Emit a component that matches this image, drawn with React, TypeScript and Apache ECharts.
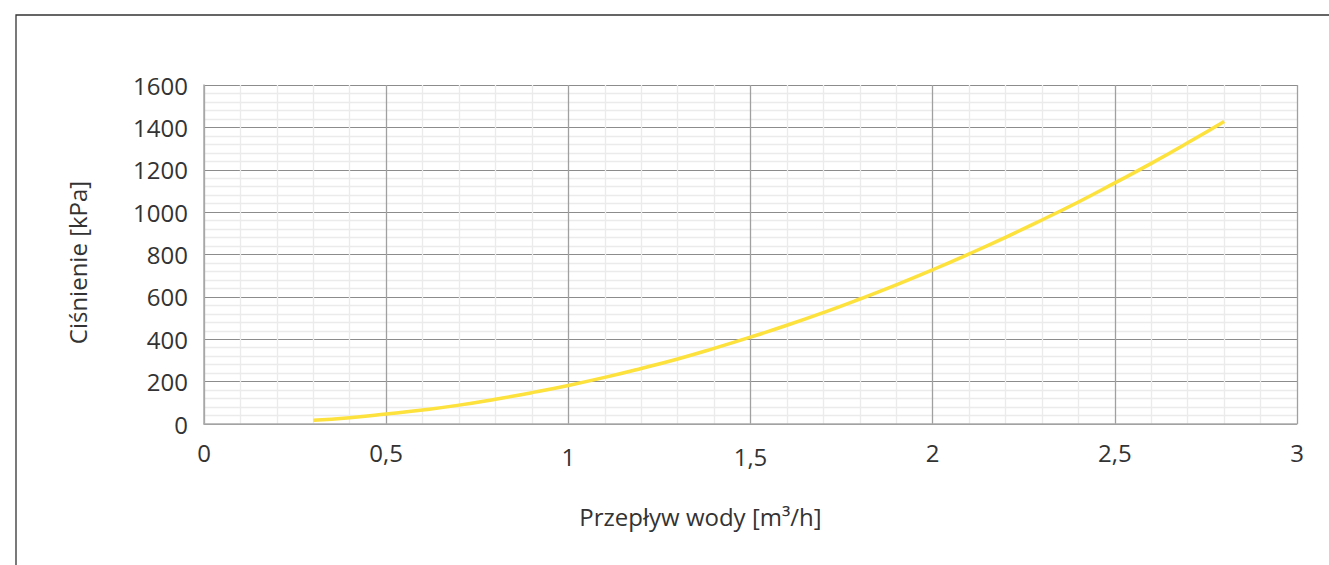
import React, { useEffect, useRef } from "react";
import * as echarts from "echarts";

const flow = [0.3, 0.4, 0.5, 0.6, 0.7, 0.8, 0.9, 1.0, 1.1, 1.2, 1.3, 1.4, 1.5, 1.6, 1.7, 1.8, 1.9, 2.0, 2.1, 2.2, 2.3, 2.4, 2.5, 2.6, 2.7, 2.8];
const pressure = [18, 30, 47, 66, 89, 117, 148, 182, 220, 262, 307, 357, 410, 466, 526, 590, 657, 728, 803, 881, 963, 1048, 1138, 1230, 1327, 1428];
const xTitle = "Przepływ wody [m³/h]";
const yTitle = "Ciśnienie [kPa]";
const lowLabels = [1, 1.5];

const FONT = "'Open Sans', sans-serif";
const FS = 24;

export default function App() {
  const ref = useRef<HTMLDivElement>(null);
  useEffect(() => {
    document.body.style.margin = "0";
    const chart = echarts.init(ref.current!, null, { renderer: "svg" });
    chart.setOption({
      animation: false,
      backgroundColor: "#ffffff",
      textStyle: { fontFamily: FONT },
      graphic: [
        {
          type: "rect",
          shape: { x: 16, y: 15, width: 1400, height: 600 },
          style: { fill: "none", stroke: "#333", lineWidth: 1.3 },
          silent: true,
        },
      ],
      grid: { left: 204, top: 85, right: 32, bottom: 141 },
      xAxis: {
        type: "value",
        min: 0,
        max: 3,
        interval: 0.5,
        name: xTitle,
        nameLocation: "middle",
        nameGap: 80,
        nameTextStyle: { fontSize: FS, color: "#333", fontFamily: FONT, padding: [0, 100, 0, 0] },
        axisLine: { show: true, lineStyle: { color: "#aaa", width: 1.5 } },
        axisTick: { show: false },
        axisLabel: {
          margin: 16,
          fontSize: FS,
          color: "#333",
          fontFamily: FONT,
          formatter: (v: number) => {
            const s = String(v).replace(".", ",");
            return lowLabels.includes(v) ? "{low|" + s + "}" : "{n|" + s + "}";
          },
          rich: {
            n: { fontSize: FS, color: "#333", fontFamily: FONT },
            low: { fontSize: FS, color: "#333", fontFamily: FONT, padding: [4, 0, 0, 0] },
          },
        },
        splitLine: { show: true, lineStyle: { color: "#a0a0a0", width: 1.3 } },
        minorTick: { show: false, splitNumber: 5 },
        minorSplitLine: { show: true, lineStyle: { color: "#ebebeb", width: 1.3 } },
      },
      yAxis: {
        type: "value",
        min: 0,
        max: 1600,
        interval: 200,
        name: yTitle,
        nameLocation: "middle",
        nameGap: 115,
        nameTextStyle: { fontSize: FS, color: "#333", fontFamily: FONT, padding: [0, 16, 0, 0] },
        axisLine: { show: true, lineStyle: { color: "#aaa", width: 1.5 } },
        axisTick: { show: false },
        axisLabel: {
          margin: 16,
          fontSize: FS,
          color: "#333",
          fontFamily: FONT,
          formatter: (v: number) => String(v),
        },
        splitLine: { show: true, lineStyle: { color: "#8c8c8c", width: 1 } },
        minorTick: { show: false, splitNumber: 5 },
        minorSplitLine: { show: true, lineStyle: { color: "#ebebeb", width: 1.3 } },
      },
      series: [
        {
          type: "line",
          data: flow.map((f, i) => [f, pressure[i]]),
          smooth: true,
          symbol: "none",
          lineStyle: { color: "#FDE13C", width: 3.5 },
        },
      ],
    });
    return () => chart.dispose();
  }, []);
  return <div ref={ref} style={{ width: 1329, height: 565 }} />;
}
